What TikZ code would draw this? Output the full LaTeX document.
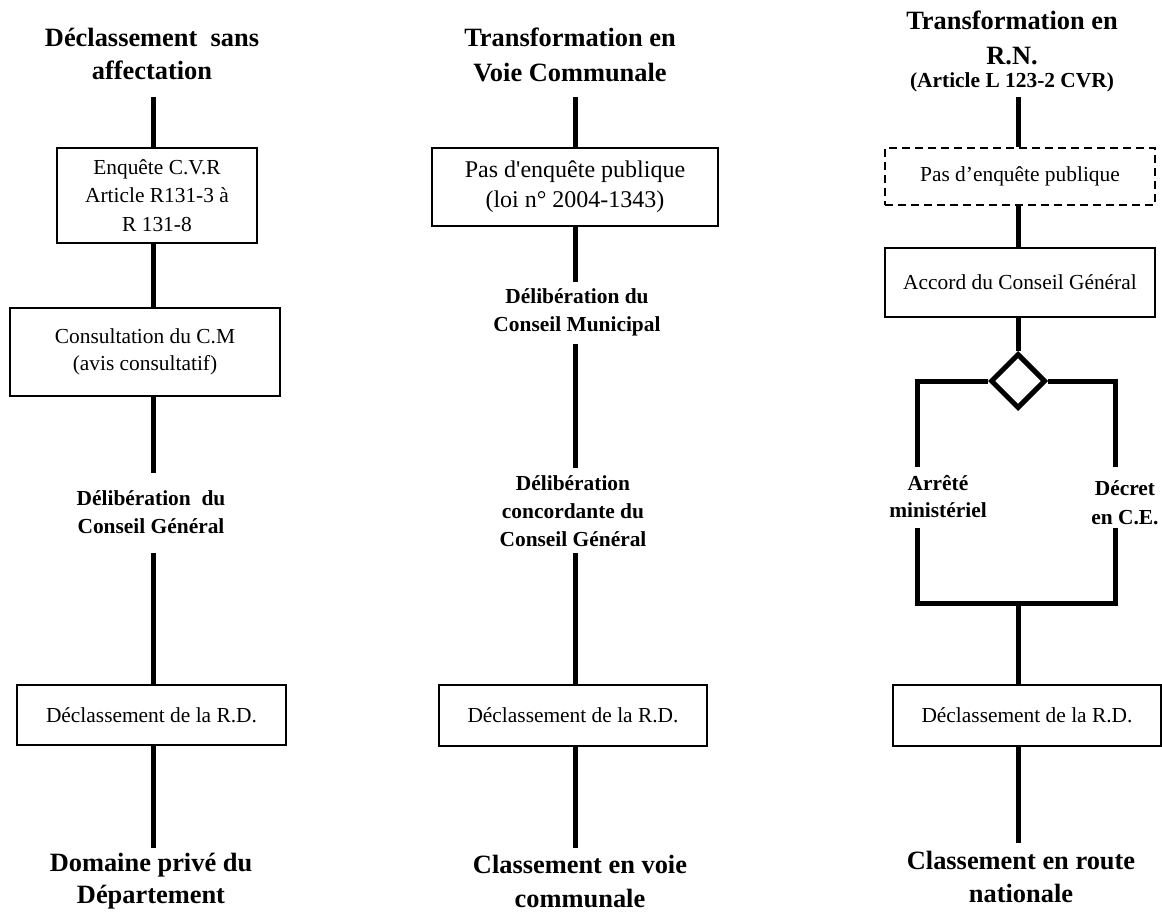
\documentclass[tikz,border=0pt]{standalone}
\usepackage{fontspec}
\setmainfont{Liberation Serif}
\usetikzlibrary{shapes.geometric}

\begin{document}
\begin{tikzpicture}[x=1pt,y=-1pt,
  conn/.style={line width=5pt},
  stepbox/.style={draw, line width=1.2pt, inner sep=0pt, align=center,
    font=\fontsize{21.4}{27.5}\selectfont},
  dashbox/.style={stepbox, dash pattern=on 8pt off 5pt},
  headline/.style={align=center, inner sep=0pt,
    font=\bfseries\fontsize{26.4}{#1}\selectfont},
  headline/.default=34,
  midlabel/.style={align=center, inner sep=0pt,
    font=\bfseries\fontsize{21.4}{#1}\selectfont},
  midlabel/.default=28,
]
\useasboundingbox (0,0) rectangle (1162,911);

% ---------- column 1 : déclassement sans affectation ----------
\node[headline=33] (t1) at (152,53.5) {Déclassement\ \ sans\\affectation};
\coordinate (s1a) at (153,97);
\node[stepbox, minimum width=200pt, minimum height=95pt,
      font=\fontsize{21.4}{28.5}\selectfont] (e1) at (157,195.5)
      {Enquête C.V.R\\Article R131-3 à\\R 131-8};
\node[stepbox, minimum width=270pt, minimum height=88pt,
      font=\fontsize{21.4}{27}\selectfont] (c1) at (145,352)
      {Consultation du C.M\\(avis consultatif)};
\coordinate (s1b) at (153,473);
\node[midlabel] (d1) at (151,512) {Délibération\ \ du\\Conseil Général};
\coordinate (s1c) at (153,553);
\node[stepbox, minimum width=269pt, minimum height=60pt] (r1) at (151.5,715)
      {Déclassement de la R.D.};
\coordinate (s1d) at (153,848);
\node[headline=32] (f1) at (151,881) {Domaine privé du\\Département};

\draw[conn] (s1a) -- (s1a |- e1.north);
\draw[conn] (e1.south -| s1a) -- (c1.north -| s1a);
\draw[conn] (c1.south -| s1a) -- (s1b);
\draw[conn] (s1c) -- (r1.north -| s1a);
\draw[conn] (r1.south -| s1a) -- (s1d);

% ---------- column 2 : transformation en voie communale ----------
\node[headline=35] (t2) at (570,54.5) {Transformation en\\Voie Communale};
\coordinate (s2a) at (575,97);
\node[stepbox, minimum width=286pt, minimum height=78pt,
      font=\fontsize{24}{30}\selectfont] (e2) at (575,187)
      {Pas d\textquotesingle enquête publique\\(loi n° 2004-1343)};
\coordinate (s2b) at (575,282);
\node[midlabel] (d2) at (577,312) {Délibération du\\Conseil Municipal};
\coordinate (s2c) at (575,344);
\coordinate (s2d) at (575,468);
\node[midlabel=28] (g2) at (573,511) {Délibération\\concordante du\\Conseil Général};
\coordinate (s2e) at (575,553);
\node[stepbox, minimum width=268pt, minimum height=61pt] (r2) at (573,715.5)
      {Déclassement de la R.D.};
\coordinate (s2f) at (575,848);
\node[headline=34] (f2) at (580,881) {Classement en voie\\communale};

\draw[conn] (s2a) -- (s2a |- e2.north);
\draw[conn] (e2.south -| s2a) -- (s2b);
\draw[conn] (s2c) -- (s2d);
\draw[conn] (s2e) -- (r2.north -| s2a);
\draw[conn] (r2.south -| s2a) -- (s2f);

% ---------- column 3 : transformation en route nationale ----------
\node[headline=35] (t3) at (1012,37.5) {Transformation en\\R.N.};
\node[midlabel] (t3b) at (1012,82) {(Article L 123-2 CVR)};
\coordinate (s3a) at (1018,97);
\node[dashbox, minimum width=270pt, minimum height=57pt] (e3) at (1020,176.5)
      {Pas d’enquête publique};
\node[stepbox, minimum width=270pt, minimum height=69pt] (a3) at (1020,282.5)
      {Accord du Conseil Général};
\node[draw, diamond, aspect=1, line width=5pt, inner sep=0pt,
      minimum width=55pt, minimum height=55pt] (dia) at (1018,381) {};
\coordinate (a3t) at (917,467);
\coordinate (a3b) at (917,528);
\coordinate (d3t) at (1115,467);
\coordinate (d3b) at (1115,528);
\coordinate (j3) at (1018,603);
\node[midlabel=27] (am) at (938,496.5) {Arrêté\\ministériel};
\node[midlabel=29] (dc) at (1125,502.5) {Décret\\en C.E.};
\node[stepbox, minimum width=268pt, minimum height=61pt] (r3) at (1027,715.5)
      {Déclassement de la R.D.};
\coordinate (s3f) at (1018,843);
\node[headline=33] (f3) at (1021,876.5) {Classement en route\\nationale};

\draw[conn] (s3a) -- (s3a |- e3.north);
\draw[conn] (e3.south -| s3a) -- (a3.north -| s3a);
\draw[conn] (a3.south -| s3a) -- (dia.north);
\draw[conn] (dia.west) -| (a3t);
\draw[conn] (dia.east) -| (d3t);
\draw[conn] (a3b) |- (j3) -| (d3b);
\draw[conn] (j3) -- (r3.north -| j3);
\draw[conn] (r3.south -| j3) -- (s3f);
\end{tikzpicture}
\end{document}
